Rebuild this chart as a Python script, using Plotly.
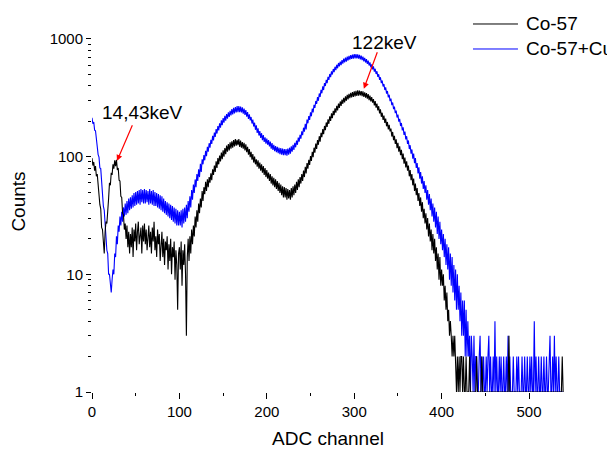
import math
import plotly.graph_objects as go

# ADC channels
channels = list(range(0, 540))

co57 = [
    97, 84, 90, 76, 83, 68, 71, 55, 53, 39, 36, 25, 24, 17, 15, 23, 28, 27, 41, 44,
    60, 57, 73, 70, 86, 79, 93, 83, 94, 77, 80, 63, 62, 46, 45, 33, 32, 24, 27, 20,
    26, 17, 23, 15, 22, 17, 25, 14, 24, 19, 27, 16, 23, 28, 18, 21, 25, 15, 26, 19,
    27, 18, 24, 16, 22, 26, 17, 23, 15, 25, 19, 28, 16, 21, 14, 24, 18, 22, 13, 20,
    23, 14, 20, 12, 19, 16, 21, 11, 18, 13, 20, 10, 17, 14, 19, 9, 16, 12, 5, 15,
    17, 11, 19, 8, 16, 12, 18, 10, 3, 14, 20, 13, 21, 15, 24, 18, 26, 21, 31, 25,
    35, 28, 40, 33, 44, 37, 51, 42, 55, 48, 61, 51, 64, 55, 67, 60, 72, 63, 78, 70,
    84, 74, 91, 80, 97, 86, 102, 91, 108, 95, 113, 100, 118, 105, 124, 110, 128, 113, 132, 117,
    135, 119, 138, 122, 141, 124, 139, 125, 141, 121, 137, 119, 133, 117, 131, 113, 127, 109, 121, 104,
    116, 99, 110, 94, 105, 89, 100, 86, 95, 82, 93, 79, 89, 76, 86, 73, 83, 70, 80, 67,
    77, 65, 73, 62, 71, 59, 68, 57, 66, 55, 64, 53, 62, 51, 60, 49, 58, 47, 56, 45,
    55, 45, 54, 43, 53, 44, 52, 43, 54, 45, 56, 47, 58, 49, 61, 52, 64, 55, 67, 59,
    71, 62, 76, 67, 82, 72, 88, 79, 94, 85, 101, 92, 110, 99, 119, 108, 129, 116, 138, 126,
    149, 134, 159, 146, 171, 155, 182, 168, 195, 179, 207, 190, 220, 201, 233, 212, 245, 225, 257, 236,
    270, 247, 282, 259, 294, 270, 305, 281, 316, 289, 325, 298, 334, 306, 342, 313, 348, 318, 354, 322,
    358, 325, 362, 328, 365, 330, 363, 331, 360, 326, 358, 321, 352, 317, 347, 311, 339, 302, 330, 294,
    320, 287, 308, 272, 296, 260, 282, 247, 268, 233, 252, 218, 236, 205, 223, 193, 210, 181, 197, 170,
    186, 164, 173, 148, 162, 138, 150, 128, 140, 118, 131, 110, 122, 103, 114, 95, 106, 87, 98, 81,
    91, 76, 84, 68, 77, 63, 71, 57, 65, 51, 59, 47, 54, 42, 49, 38, 45, 34, 41, 30,
    36, 27, 33, 24, 30, 21, 27, 19, 24, 16, 22, 15, 20, 13, 17, 11, 15, 9, 14, 8,
    11, 8, 10, 6, 8, 5, 7, 4, 5, 3, 4, 3, 2, 3, 2, 3, 2, 1, 2, 1,
    2, 1, 2, 2, 1, 2, 1, 1, 2, 1, 1, 1, 2, 1, 1, 1, 1, 1, 1, 1,
    2, 1, 1, 1, 1, 1, 2, 1, 1, 1, 1, 1, 1, 1, 1, 1, 1, 1, 1, 1,
    1, 1, 1, 1, 1, 1, 1, 1, 1, 1, 1, 1, 1, 1, 1, 1, 1, 3, 1, 1,
    1, 1, 1, 1, 1, 1, 1, 1, 1, 1, 1, 1, 1, 1, 1, 1, 1, 1, 1, 1,
    1, 1, 1, 1, 1, 1, 1, 1, 1, 1, 1, 1, 1, 1, 1, 1, 1, 1, 1, 1,
    1, 1, 1, 1, 1, 1, 1, 1, 1, 1, 1, 1, 1, 1, 1, 1, 1, 1, 2, 1,
]

co57_cu = [
    214, 190, 197, 168, 166, 135, 131, 104, 99, 80, 79, 58, 53, 38, 35, 25, 23, 16, 15, 10,
    10, 8, 7, 9, 11, 10, 15, 14, 21, 18, 26, 23, 31, 26, 34, 28, 37, 31, 40, 32,
    42, 33, 44, 35, 45, 36, 47, 37, 49, 38, 50, 39, 51, 40, 52, 39, 53, 41, 52, 40,
    53, 40, 52, 41, 51, 39, 53, 40, 51, 39, 52, 38, 50, 38, 49, 37, 48, 36, 47, 35,
    46, 34, 44, 33, 42, 32, 41, 31, 40, 30, 39, 29, 38, 28, 37, 27, 36, 26, 35, 26,
    34, 26, 35, 25, 36, 27, 37, 28, 39, 30, 42, 34, 46, 37, 52, 43, 58, 49, 64, 55,
    71, 62, 78, 67, 87, 74, 95, 86, 103, 93, 112, 101, 121, 110, 130, 119, 139, 128, 150, 137,
    160, 147, 171, 157, 182, 167, 192, 176, 203, 185, 212, 194, 222, 202, 230, 210, 238, 217, 245, 224,
    253, 228, 260, 233, 263, 237, 268, 239, 268, 239, 266, 237, 262, 232, 256, 226, 248, 218, 239, 209,
    229, 203, 217, 191, 206, 180, 194, 169, 184, 159, 174, 151, 165, 144, 158, 138, 152, 133, 146, 129,
    142, 126, 138, 122, 134, 117, 130, 114, 126, 111, 123, 109, 121, 107, 119, 105, 118, 104, 117, 103,
    116, 103, 116, 102, 117, 104, 119, 106, 122, 110, 126, 114, 131, 120, 137, 126, 145, 134, 153, 142,
    164, 152, 176, 163, 190, 170, 206, 192, 221, 205, 238, 220, 256, 237, 275, 259, 297, 280, 320, 298,
    344, 322, 369, 345, 395, 368, 421, 398, 448, 421, 475, 449, 503, 474, 530, 498, 555, 522, 580, 543,
    603, 563, 624, 585, 642, 598, 661, 617, 679, 631, 693, 642, 706, 655, 718, 667, 729, 676, 736, 680,
    742, 684, 741, 683, 738, 679, 731, 670, 720, 660, 707, 645, 690, 630, 673, 613, 654, 594, 632, 572,
    608, 550, 584, 528, 558, 503, 531, 476, 501, 449, 472, 421, 443, 394, 414, 368, 387, 343, 361, 319,
    335, 296, 311, 274, 288, 253, 266, 234, 246, 215, 227, 198, 209, 182, 193, 167, 177, 153, 163, 140,
    149, 128, 137, 116, 125, 106, 115, 96, 106, 88, 97, 80, 88, 72, 81, 65, 74, 59, 68, 53,
    62, 49, 57, 43, 52, 39, 48, 35, 44, 31, 40, 28, 37, 25, 34, 22, 31, 20, 28, 18,
    24, 16, 22, 14, 20, 12, 18, 11, 17, 9, 15, 8, 14, 7, 12, 6, 11, 5, 10, 5,
    8, 4, 7, 3, 6, 3, 6, 2, 5, 2, 4, 2, 3, 1, 3, 2, 1, 3, 1, 2,
    2, 1, 1, 2, 3, 1, 2, 1, 2, 1, 1, 2, 1, 2, 3, 1, 2, 1, 1, 2,
    1, 4, 1, 2, 1, 1, 2, 1, 2, 1, 1, 2, 1, 1, 2, 1, 3, 1, 2, 1,
    1, 1, 2, 1, 1, 1, 2, 1, 2, 1, 1, 1, 2, 1, 1, 2, 1, 1, 2, 1,
    1, 2, 1, 2, 1, 1, 4, 1, 2, 1, 1, 2, 1, 1, 2, 1, 1, 2, 1, 1,
    2, 1, 1, 2, 3, 1, 1, 2, 1, 3, 1, 2, 1, 1, 2, 1, 1, 1, 1, 1,
]

series_names = ["Co-57", "Co-57+Cu"]
series_colors = ["#000000", "#0000ff"]
y_tickvals = [1, 10, 100, 1000]
y_ticktext = ["1", "10", "100", "1000"]
y_minor = [m * d for d in (1, 10, 100, 1000) for m in range(2, 10)]

peak_labels = ["14,43keV", "122keV"]
peak_channel = [28.6, 311]
peak_counts = [92, 377]
label_channel = [58.3, 335]
label_counts = [236, 925]

FONT = "Liberation Sans, Arial, sans-serif"

fig = go.Figure()
fig.add_trace(go.Scatter(x=channels, y=co57, mode="lines", name=series_names[0],
                         line=dict(color=series_colors[0], width=1.1), zorder=1,
                         showlegend=False))
fig.add_trace(go.Scatter(x=channels, y=co57_cu, mode="lines", name=series_names[1],
                         line=dict(color=series_colors[1], width=1.1), zorder=0,
                         showlegend=False))

arrow_off = [(16, -37), (14, -38)]
for i in range(2):
    fig.add_annotation(x=peak_channel[i], y=math.log10(peak_counts[i]), text="",
                       showarrow=True, ax=arrow_off[i][0], ay=arrow_off[i][1],
                       arrowcolor="#ff0000", arrowhead=2, arrowsize=1, arrowwidth=1.2)
    fig.add_annotation(x=label_channel[i], y=math.log10(label_counts[i]), text=peak_labels[i],
                       showarrow=False, xanchor="center", yanchor="middle",
                       font=dict(family=FONT, size=19, color="#000000"))

# legend key (paper coordinates)
legend_y = [0.9659, 0.9003]
for i in range(2):
    fig.add_shape(type="line", xref="paper", yref="paper",
                  x0=0.8072, x1=0.9025, y0=legend_y[i], y1=legend_y[i],
                  line=dict(color=series_colors[i], width=1))
    fig.add_annotation(xref="paper", yref="paper", x=0.9153, y=legend_y[i],
                       text=series_names[i], showarrow=False,
                       xanchor="left", yanchor="middle",
                       font=dict(family=FONT, size=19, color="#000000"))

# the page body adds an 8px offset; margins compensate so the plot area
# lands at x 92..564, y 11..392 in the window
fig.update_layout(
    width=615, height=450,
    margin=dict(l=84, r=59, t=3, b=66, autoexpand=False),
    paper_bgcolor="white", plot_bgcolor="white",
    font=dict(family=FONT, color="#000000"),
    showlegend=False,
    xaxis=dict(range=[0, 540], dtick=100, tick0=0, showgrid=False, zeroline=False,
               automargin=False,
               showline=True, linecolor="black", linewidth=1,
               ticks="outside", ticklen=6, tickwidth=1, tickcolor="black",
               minor=dict(dtick=50, tick0=0, ticks="outside", ticklen=3, tickcolor="black"),
               tickfont=dict(size=15),
               title=dict(text="ADC channel", font=dict(size=19), standoff=12)),
    yaxis=dict(type="log", range=[0, 3.237], showgrid=False, zeroline=False,
               automargin=False,
               showline=True, linecolor="black", linewidth=1,
               tickmode="array", tickvals=y_tickvals, ticktext=y_ticktext,
               ticks="outside", ticklen=5, tickwidth=1, tickcolor="black",
               minor=dict(tickmode="array", tickvals=y_minor, ticks="outside",
                          ticklen=3, tickcolor="black"),
               tickfont=dict(size=15),
               title=dict(text="Counts", font=dict(size=19), standoff=19)),
)

fig.write_html("out.html")
